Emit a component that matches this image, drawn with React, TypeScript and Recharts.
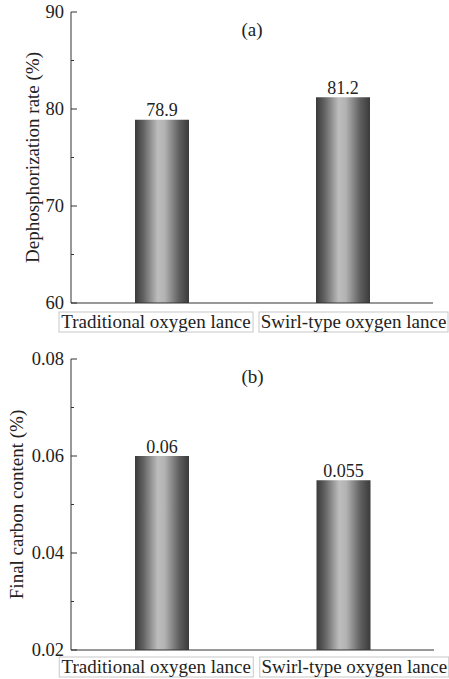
import React from 'react';
import { BarChart, Bar, XAxis, YAxis, LabelList } from 'recharts';

const categories = ['Traditional oxygen lance', 'Swirl-type oxygen lance'];
const dephosphorization = [78.9, 81.2];
const finalCarbon = [0.06, 0.055];
const dephosTicks = [60, 65, 70, 75, 80, 85, 90];
const carbonTicks = [0.02, 0.03, 0.04, 0.05, 0.06, 0.07, 0.08];

const topData = categories.map((name, i) => ({ name, value: dephosphorization[i] }));
const bottomData = categories.map((name, i) => ({ name, value: finalCarbon[i] }));

const FONT = '"Liberation Serif", "Times New Roman", serif';
const AXIS = '#333';
const txt = { fontFamily: FONT, fontSize: 19, fill: '#222' };
// label boxes sit a bit off-center in the original figure
const labelShift = [-5.5, 11];

function YTick(props: any) {
  const { x, y, payload, index, digits } = props;
  const major = index % 2 === 0;
  const ax = x + 7;
  return (
    <g>
      <line x1={ax} x2={ax + (major ? 6 : 3)} y1={y} y2={y} stroke={AXIS} strokeWidth={1} />
      {major && (
        <text x={x} y={y} dy={6} textAnchor="end" style={{ ...txt, fontSize: 18.5 }}>
          {payload.value.toFixed(digits)}
        </text>
      )}
    </g>
  );
}

function XTick(props: any) {
  const { x, y, payload, index, boxTop } = props;
  const cx = x + labelShift[index];
  const w = index === 0 ? 194 : 189;
  return (
    <g>
      <rect x={cx - w / 2} y={y + boxTop} width={w} height={20} fill="none" stroke="#c8c8c8" strokeWidth={1} />
      <text x={cx} y={y + boxTop + 16} textAnchor="middle" style={txt}>
        {payload.value}
      </text>
    </g>
  );
}

function YTitle(props: any) {
  const { viewBox, value, cx } = props;
  const cy = viewBox.y + viewBox.height / 2;
  return (
    <text x={cx} y={cy} transform={`rotate(-90 ${cx} ${cy})`} textAnchor="middle" dy={6} style={txt}>
      {value}
    </text>
  );
}

function BarValue(props: any) {
  const { x, y, width, value } = props;
  return (
    <text x={x + width / 2} y={y - 3.5} textAnchor="middle" style={{ ...txt, fontSize: 18 }}>
      {String(value)}
    </text>
  );
}

function BarGradient({ id }: { id: string }) {
  return (
    <defs>
      <linearGradient id={id} x1="0" y1="0" x2="1" y2="0">
        <stop offset="0%" stopColor="#3a3a3a" />
        <stop offset="15%" stopColor="#606060" />
        <stop offset="42%" stopColor="#bdbdbd" />
        <stop offset="55%" stopColor="#b3b3b3" />
        <stop offset="82%" stopColor="#5e5e5e" />
        <stop offset="100%" stopColor="#3a3a3a" />
      </linearGradient>
    </defs>
  );
}

interface PanelProps {
  data: { name: string; value: number }[];
  ticks: number[];
  digits: number;
  title: string;
  titleX: number;
  tag: string;
  height: number;
  margin: { top: number; right: number; left: number; bottom: number };
  xHeight: number;
  boxTop: number;
  gid: string;
}

function Panel({ data, ticks, digits, title, titleX, tag, height, margin, xHeight, boxTop, gid }: PanelProps) {
  const plotCenter = 71 + (449 - 71 - margin.right) / 2;
  return (
    <BarChart width={449} height={height} data={data} margin={margin} barCategoryGap="35%">
      <BarGradient id={gid} />
      <XAxis dataKey="name" height={xHeight} tickSize={0} tickMargin={0} tickLine={false}
        axisLine={{ stroke: AXIS }} tick={<XTick boxTop={boxTop} />} interval={0} />
      <XAxis xAxisId="top" orientation="top" dataKey="name" height={0} tick={false}
        tickLine={false} axisLine={{ stroke: AXIS }} />
      <YAxis domain={[ticks[0], ticks[ticks.length - 1]]} ticks={ticks} width={71}
        tickSize={0} tickMargin={7} tickLine={false} axisLine={{ stroke: AXIS }}
        tick={<YTick digits={digits} />} interval={0} allowDataOverflow
        label={<YTitle value={title} cx={titleX} />} />
      <YAxis yAxisId="right" orientation="right" width={0} tick={false} tickLine={false}
        axisLine={{ stroke: '#777', strokeWidth: 1.5 }} />
      <Bar dataKey="value" fill={`url(#${gid})`} barSize={54} isAnimationActive={false}>
        <LabelList dataKey="value" content={<BarValue />} />
      </Bar>
      <text x={plotCenter} y={margin.top + 24} textAnchor="middle" style={txt}>{tag}</text>
    </BarChart>
  );
}

export default function App() {
  return (
    <div style={{ position: 'absolute', left: 0, top: 0, width: 449, height: 679, background: '#fff', fontFamily: FONT }}>
      <div style={{ position: 'absolute', left: 0, top: 0 }}>
        <Panel data={topData} ticks={dephosTicks} digits={0} title="Dephosphorization rate (%)"
          titleX={33} tag="(a)" height={336} margin={{ top: 12, right: 16, left: 0, bottom: 0 }}
          xHeight={33} boxTop={9} gid="gradA" />
      </div>
      <div style={{ position: 'absolute', left: 0, top: 340 }}>
        <Panel data={bottomData} ticks={carbonTicks} digits={2} title="Final carbon content (%)"
          titleX={17} tag="(b)" height={339} margin={{ top: 19, right: 15, left: 0, bottom: 0 }}
          xHeight={29} boxTop={7} gid="gradB" />
      </div>
    </div>
  );
}
